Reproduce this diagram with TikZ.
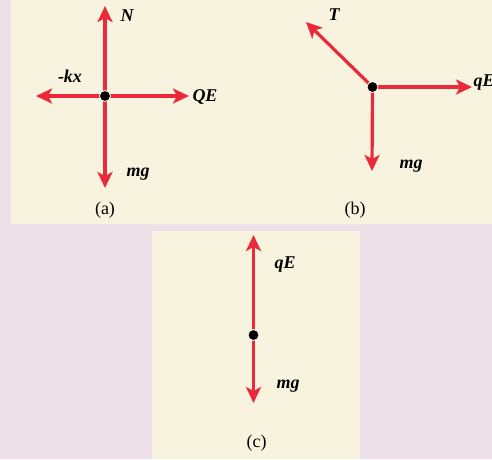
\documentclass[tikz,border=0pt]{standalone}
\usepackage{fontspec}
\setmainfont{Liberation Serif}
\usetikzlibrary{arrows.meta}
\definecolor{outerbg}{HTML}{EFE1E9}
\definecolor{panelbg}{HTML}{F8F3DE}
\definecolor{force}{HTML}{EA2A3A}
\tikzset{
  vec/.style={draw=force, line width=3.2pt, -{Stealth[length=16pt,width=15pt,inset=4pt]}},
  dotnode/.style={circle, fill=black, draw=white, line width=0.8pt, inner sep=0pt, minimum size=11pt},
  flabel/.style={font=\fontsize{18}{18}\selectfont\bfseries\itshape, inner sep=0pt},
  caption/.style={font=\fontsize{18}{18}\selectfont, inner sep=0pt}
}
\begin{document}
\begin{tikzpicture}[x=1pt,y=-1pt]
\useasboundingbox (0,0) rectangle (492,459);
\fill[outerbg] (0,0) rectangle (492,459);
\fill[panelbg] (11,0) rectangle (492,224);
\fill[panelbg] (152,231) rectangle (360,459);
% (a)
\coordinate (aN) at (105,6);
\coordinate (aS) at (105,188);
\coordinate (aW) at (36,96);
\coordinate (aE) at (189,96);
\draw[vec] (105,96) -- (aN);
\draw[vec] (105,96) -- (aS);
\draw[vec] (105,96) -- (aW);
\draw[vec] (105,96) -- (aE);
\node[dotnode] (a) at (105,96) {};
\node[flabel] (aNl) at (127,16) {N};
\node[flabel] (aWl) at (70,76) {-kx};
\node[flabel] (aEl) at (205,97) {QE};
\node[flabel] (aSl) at (138,174) {mg};
\node[caption] (acap) at (105,210) {(a)};
% (b)
\coordinate (bT) at (306,22);
\coordinate (bE) at (472,87);
\coordinate (bS) at (372,171);
\draw[vec] (372.5,87) -- (bT);
\draw[vec] (372.5,87) -- (bE);
\draw[vec] (372.5,87) -- (bS);
\node[dotnode] (b) at (372.5,87) {};
\node[flabel] (bTl) at (334,15) {T};
\node[flabel] (bEl) at (484,83) {qE};
\node[flabel] (bSl) at (411,166) {mg};
\node[caption] (bcap) at (355,210) {(b)};
% (c)
\coordinate (cN) at (253.5,235);
\coordinate (cS) at (253.5,403);
\draw[vec] (253.5,335) -- (cN);
\draw[vec] (253.5,335) -- (cS);
\node[dotnode] (c) at (253.5,335) {};
\node[flabel] (cNl) at (285,265) {qE};
\node[flabel] (cSl) at (288,386) {mg};
\node[caption] (ccap) at (256.5,443) {(c)};
\end{tikzpicture}
\end{document}
